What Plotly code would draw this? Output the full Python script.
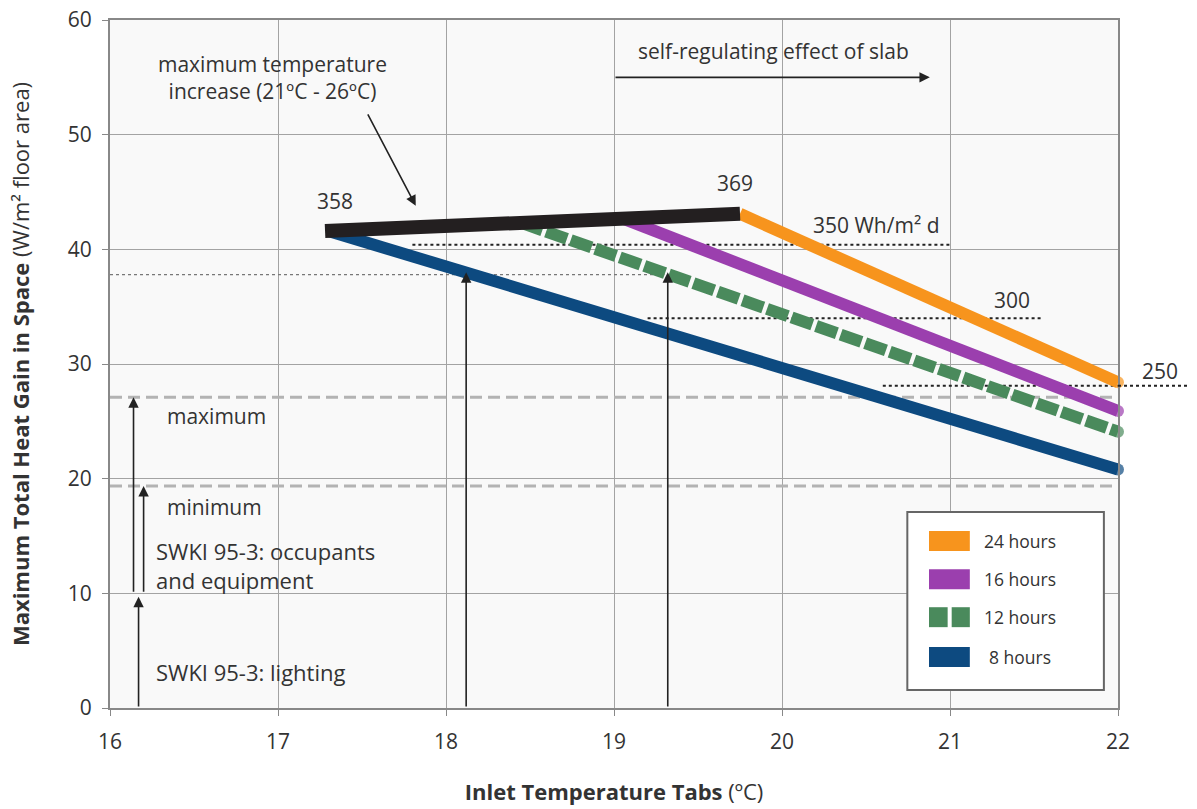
import plotly.graph_objects as go

# ---------------- data ----------------
black_x = [17.28, 19.75]
black_y = [41.6, 43.1]

series_names = ["24 hours", "16 hours", "12 hours", "8 hours"]
series_colors = ["#f7941d", "#9b3fae", "#4a8a5c", "#0d4a80"]
series_dash = ["solid", "solid", "22px,4px", "solid"]
x_24 = [19.75, 22.0]
y_24 = [43.1, 28.4]
x_16 = [19.05, 22.0]
y_16 = [42.7, 25.9]
x_12 = [18.45, 22.0]
y_12 = [42.3, 24.1]
x_8 = [17.3, 22.0]
y_8 = [41.6, 20.8]
series_x = [x_24, x_16, x_12, x_8]
series_y = [y_24, y_16, y_12, y_8]

# reference levels
level_350 = 40.4
level_350_x = [17.8, 21.0]
level_38 = 37.8
level_38_x = [16.0, 19.3]
level_300 = 34.0
level_300_x = [19.2, 21.55]
level_250 = 28.1
level_250_x = [20.6, 22.0]
max_level = 27.1
min_level = 19.35

# arrows (x, y_from, y_to)
arrows_vertical = [
    (16.14, 10.0, 27.1),
    (16.2, 10.0, 19.35),
    (16.17, 0.0, 9.7),
    (18.12, 0.0, 38.0),
    (19.32, 0.0, 38.0),
]

x_ticks = [16, 17, 18, 19, 20, 21, 22]
y_ticks = [0, 10, 20, 30, 40, 50, 60]

FONT = "Open Sans"
TXT = "#333333"

fig = go.Figure()

def hline(xs, yv, color, width, dash):
    fig.add_trace(go.Scatter(x=xs, y=[yv, yv], mode="lines",
                             line=dict(color=color, width=width, dash=dash),
                             showlegend=False, hoverinfo="skip"))

hline([16, 22], max_level, "#b3b3b3", 3, "12px,6px")
hline([16, 22], min_level, "#b3b3b3", 3, "12px,6px")
hline(level_38_x, level_38, "#777777", 1.3, "3px,3px")
hline(level_350_x, level_350, "#222222", 2, "3px,3px")
hline(level_300_x, level_300, "#222222", 2, "3px,3px")
hline(level_250_x, level_250, "#222222", 2, "3px,3px")

for i in [3, 2, 1, 0]:
    fig.add_trace(go.Scatter(
        x=series_x[i], y=series_y[i], mode="lines+markers", name=series_names[i],
        line=dict(color=series_colors[i], width=12, dash=series_dash[i]),
        marker=dict(color=series_colors[i], size=[0, 12], line=dict(width=0)),
        cliponaxis=False, showlegend=False))

fig.add_trace(go.Scatter(x=black_x, y=black_y, mode="lines",
                         line=dict(color="#231f20", width=14),
                         showlegend=False, hoverinfo="skip"))

annotations = []
for (xa, y0, y1) in arrows_vertical:
    annotations.append(dict(x=xa, y=y1, ax=xa, ay=y0, xref="x", yref="y",
                            axref="x", ayref="y", text="", showarrow=True,
                            arrowhead=2, arrowsize=1.3, arrowwidth=1.6,
                            arrowcolor="#222222", standoff=0))

annotations.append(dict(x=17.82, y=43.8, ax=17.53, ay=51.9, xref="x", yref="y",
                        axref="x", ayref="y", text="", showarrow=True,
                        arrowhead=2, arrowsize=1.3, arrowwidth=1.6,
                        arrowcolor="#222222", standoff=0))
annotations.append(dict(x=20.88, y=55.0, ax=19.0, ay=55.0, xref="x", yref="y",
                        axref="x", ayref="y", text="", showarrow=True,
                        arrowhead=2, arrowsize=1.3, arrowwidth=1.6,
                        arrowcolor="#222222", standoff=0))

def label(x, y, text, xanchor="center", size=21, xref="x"):
    annotations.append(dict(x=x, y=y, xref=xref, yref="y", text=text,
                            showarrow=False, xanchor=xanchor, yanchor="middle",
                            font=dict(family=FONT, size=size, color=TXT),
                            align="left" if xanchor == "left" else "center"))

label(16.97, 55.0, "maximum temperature<br>increase (21ºC - 26ºC)")
label(19.95, 57.3, "self-regulating effect of slab")
label(17.34, 44.2, "358")
label(19.72, 45.8, "369")
label(20.17, 42.1, "350 Wh/m² d", xanchor="left")
label(21.37, 35.6, "300")
label(1.042, 29.4, "250", xref="paper")
label(16.33, 25.5, "maximum", xanchor="left")
label(16.33, 17.5, "minimum", xanchor="left")
label(16.26, 12.45, "SWKI 95-3: occupants<br>and equipment", xanchor="left", size=22)
label(16.26, 3.1, "SWKI 95-3: lighting", xanchor="left", size=22)

shapes = [
    dict(type="line", xref="paper", yref="y", x0=1.0, x1=1.07,
         y0=level_250, y1=level_250,
         line=dict(color="#222222", width=2, dash="3px,3px")),
]

# legend drawn in paper coordinates
lx0, lx1, ly0, ly1 = 0.791, 0.986, 0.026, 0.285
shapes.append(dict(type="rect", xref="paper", yref="paper", x0=lx0, x1=lx1,
                   y0=ly0, y1=ly1, fillcolor="white",
                   line=dict(color="#666666", width=2), layer="above"))
row_y = [0.2427, 0.187, 0.132, 0.074]
for i, name in enumerate(series_names):
    yc = row_y[i]
    if i == 2:
        pieces = [(0.8125, 0.831), (0.835, 0.853)]
    else:
        pieces = [(0.8125, 0.853)]
    for (a, b) in pieces:
        shapes.append(dict(type="rect", xref="paper", yref="paper",
                           x0=a, x1=b, y0=yc - 0.0145, y1=yc + 0.0145,
                           fillcolor=series_colors[i], line=dict(width=0), layer="above"))
    annotations.append(dict(x=0.865 if i < 3 else 0.870, y=yc, xref="paper", yref="paper",
                            text=name, showarrow=False, xanchor="left",
                            yanchor="middle",
                            font=dict(family=FONT, size=17.5, color=TXT)))

fig.update_layout(
    width=1197, height=809,
    margin=dict(l=110, r=79, t=20, b=101, autoexpand=False),
    paper_bgcolor="white",
    plot_bgcolor="#f9f9f9",
    font=dict(family=FONT, size=21, color=TXT),
    annotations=annotations,
    shapes=shapes,
    showlegend=False,
    xaxis=dict(
        range=[16, 22], tickvals=x_ticks, ticks="outside", ticklen=6,
        tickcolor="#888888", showgrid=True, gridcolor="#a3a3a3", gridwidth=1,
        showline=True, linecolor="#888888", linewidth=2, mirror=True,
        zeroline=False, ticklabelstandoff=8, automargin=False,
        tickfont=dict(family=FONT, size=21, color=TXT),
        title=dict(text="<b>Inlet Temperature Tabs</b> (ºC)", standoff=30,
                   font=dict(family=FONT, size=22, color=TXT)),
    ),
    yaxis=dict(
        range=[0, 60], tickvals=y_ticks, ticks="outside", ticklen=6,
        tickcolor="#888888", showgrid=True, gridcolor="#a3a3a3", gridwidth=1,
        showline=True, linecolor="#888888", linewidth=2, mirror=True,
        zeroline=False, ticklabelstandoff=6, automargin=False,
        tickfont=dict(family=FONT, size=21, color=TXT),
        title=dict(text="<b>Maximum Total Heat Gain in Space</b> (W/m² floor area)",
                   standoff=32, font=dict(family=FONT, size=22, color=TXT)),
    ),
)

fig.write_html("out.html")
